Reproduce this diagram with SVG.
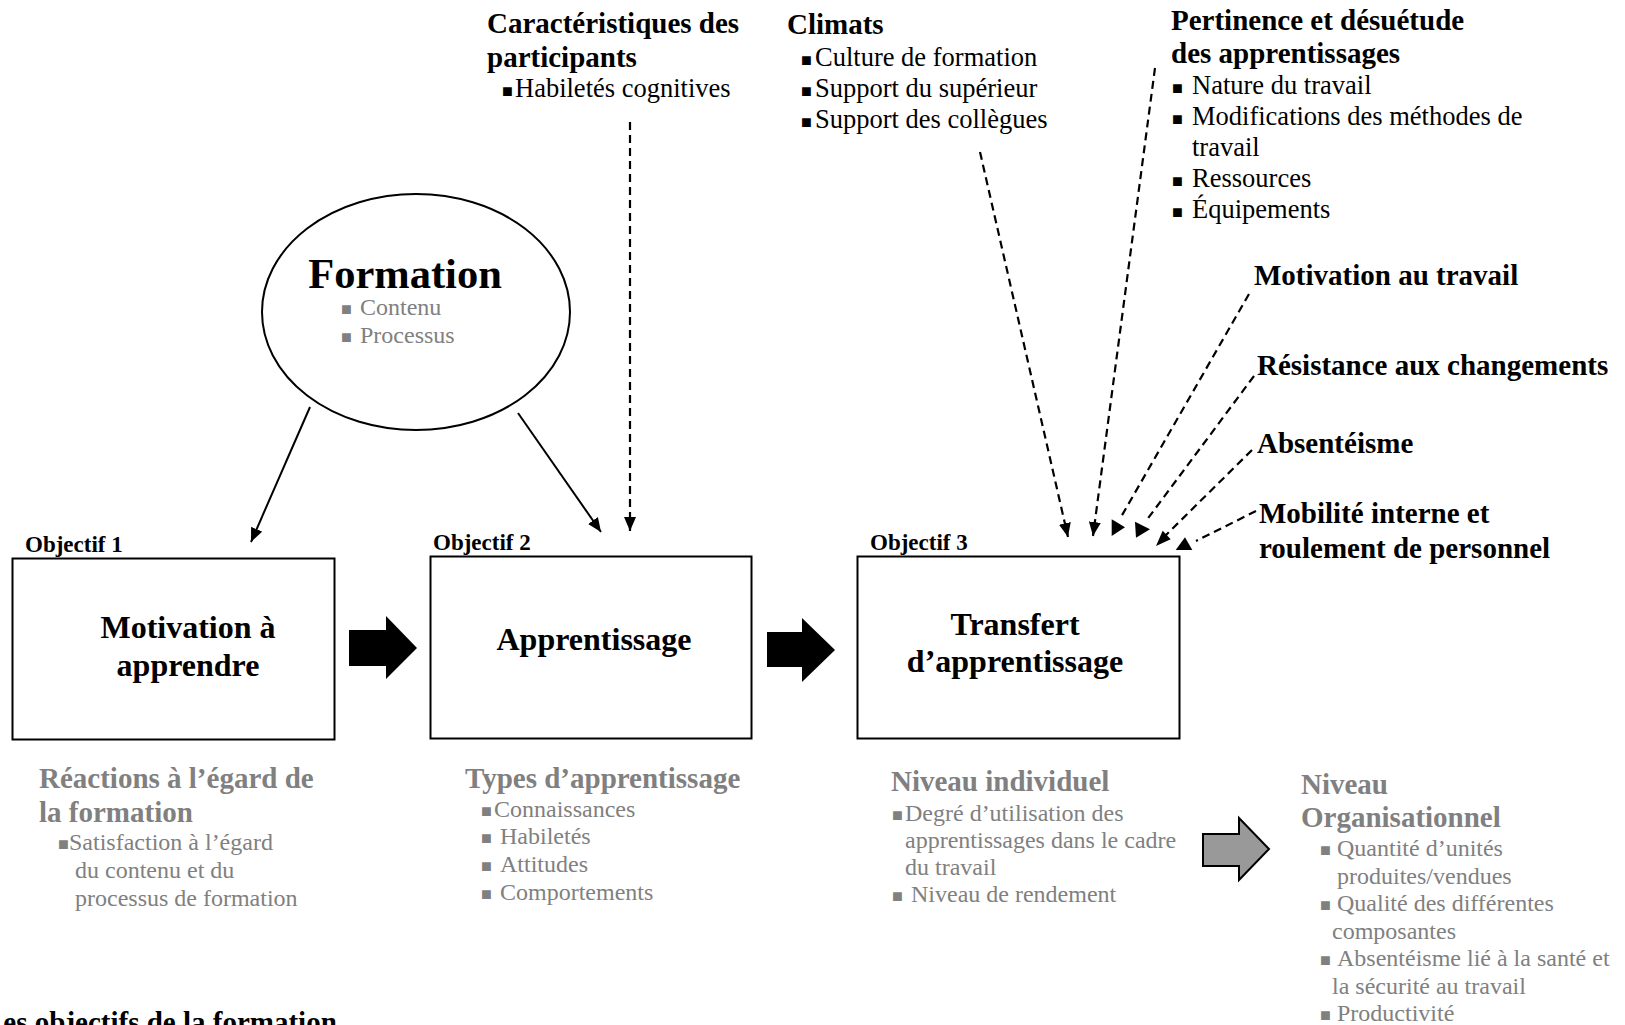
<svg xmlns="http://www.w3.org/2000/svg" width="1625" height="1025" viewBox="0 0 1625 1025">
<style>
text{font-family:"Liberation Serif","Times New Roman",serif;fill:#000}
.h{font-weight:bold;font-size:29px}
.it{font-size:26.5px}
.sm{font-size:24px}
.g{fill:#808080}
.b{font-size:18px;font-family:"Liberation Serif","DejaVu Sans",serif}
.obj{font-weight:bold;font-size:23px}
.bt{font-weight:bold;font-size:32px;text-anchor:middle}
.box{fill:#fff;stroke:#000;stroke-width:2}
.ln{fill:none;stroke:#000;stroke-width:2}
.dash{fill:none;stroke:#000;stroke-width:2.2;stroke-dasharray:8 5}
.head{fill:#000}
</style>
<defs>
<marker id="arr" markerUnits="userSpaceOnUse" markerWidth="14" markerHeight="12" refX="14" refY="6" orient="auto">
<path d="M0,0 L14,6 L0,12 z" fill="#000"/>
</marker>
</defs>
<rect width="1625" height="1025" fill="#fff"/>

<g id="formation">
<ellipse cx="416" cy="312" rx="154" ry="118" fill="#fff" stroke="#000" stroke-width="2"/>
<text x="405" y="288" font-size="42.5" font-weight="bold" text-anchor="middle">Formation</text>
<text class="sm g" y="315"><tspan class="b g" x="341">■</tspan><tspan x="360">Contenu</tspan></text>
<text class="sm g" y="343"><tspan class="b g" x="341">■</tspan><tspan x="360">Processus</tspan></text>
</g>

<g id="caracteristiques">
<text class="h" x="487" y="33">Caractéristiques des</text>
<text class="h" x="487" y="67">participants</text>
<text class="it" y="97"><tspan class="b" x="502">■</tspan><tspan x="515">Habiletés cognitives</tspan></text>
</g>

<g id="climats">
<text class="h" x="787" y="34">Climats</text>
<text class="it" y="66"><tspan class="b" x="801">■</tspan><tspan x="815">Culture de formation</tspan></text>
<text class="it" y="97"><tspan class="b" x="801">■</tspan><tspan x="815">Support du supérieur</tspan></text>
<text class="it" y="128"><tspan class="b" x="801">■</tspan><tspan x="815">Support des collègues</tspan></text>
</g>

<g id="pertinence">
<text class="h" x="1171" y="30">Pertinence et désuétude</text>
<text class="h" x="1171" y="63">des apprentissages</text>
<text class="it" y="94"><tspan class="b" x="1172">■</tspan><tspan x="1192">Nature du travail</tspan></text>
<text class="it" y="125"><tspan class="b" x="1172">■</tspan><tspan x="1192">Modifications des méthodes de</tspan></text>
<text class="it" x="1192" y="156">travail</text>
<text class="it" y="187"><tspan class="b" x="1172">■</tspan><tspan x="1192">Ressources</tspan></text>
<text class="it" y="218"><tspan class="b" x="1172">■</tspan><tspan x="1192">Équipements</tspan></text>
</g>

<g id="motivation-travail"><text class="h" x="1254" y="285">Motivation au travail</text></g>
<g id="resistance"><text class="h" x="1257" y="375">Résistance aux changements</text></g>
<g id="absenteisme"><text class="h" x="1257" y="453">Absentéisme</text></g>
<g id="mobilite">
<text class="h" x="1259" y="523">Mobilité interne et</text>
<text class="h" x="1259" y="558">roulement de personnel</text>
</g>

<g id="objectif1">
<text class="obj" x="25" y="552">Objectif 1</text>
<rect class="box" x="12.5" y="558.5" width="322" height="181"/>
<text class="bt" x="188" y="638">Motivation à</text>
<text class="bt" x="188" y="676">apprendre</text>
</g>

<g id="objectif2">
<text class="obj" x="433" y="550">Objectif 2</text>
<rect class="box" x="430.5" y="556.5" width="321" height="182"/>
<text class="bt" x="594" y="650">Apprentissage</text>
</g>

<g id="objectif3">
<text class="obj" x="870" y="550">Objectif 3</text>
<rect class="box" x="857.5" y="556.5" width="322" height="182"/>
<text class="bt" x="1015" y="635">Transfert</text>
<text class="bt" x="1015" y="672">d’apprentissage</text>
</g>

<g id="reactions">
<text class="h g" x="39" y="788">Réactions à l’égard de</text>
<text class="h g" x="39" y="822">la formation</text>
<text class="sm g" y="850"><tspan class="b g" x="58">■</tspan><tspan x="69">Satisfaction à l’égard</tspan></text>
<text class="sm g" x="75" y="878">du contenu et du</text>
<text class="sm g" x="75" y="906">processus de formation</text>
</g>

<g id="types">
<text class="h g" x="465" y="788">Types d’apprentissage</text>
<text class="sm g" y="817"><tspan class="b g" x="481">■</tspan><tspan x="494">Connaissances</tspan></text>
<text class="sm g" y="844"><tspan class="b g" x="481">■</tspan><tspan x="500">Habiletés</tspan></text>
<text class="sm g" y="872"><tspan class="b g" x="481">■</tspan><tspan x="500">Attitudes</tspan></text>
<text class="sm g" y="900"><tspan class="b g" x="481">■</tspan><tspan x="500">Comportements</tspan></text>
</g>

<g id="niveau-individuel">
<text class="h g" x="891" y="791">Niveau individuel</text>
<text class="sm g" y="821"><tspan class="b g" x="892">■</tspan><tspan x="905">Degré d’utilisation des</tspan></text>
<text class="sm g" x="905" y="848">apprentissages dans le cadre</text>
<text class="sm g" x="905" y="875">du travail</text>
<text class="sm g" y="902"><tspan class="b g" x="892">■</tspan><tspan x="911">Niveau de rendement</tspan></text>
</g>

<g id="niveau-organisationnel">
<text class="h g" x="1301" y="794">Niveau</text>
<text class="h g" x="1301" y="827">Organisationnel</text>
<text class="sm g" y="856"><tspan class="b g" x="1320">■</tspan><tspan x="1337">Quantité d’unités</tspan></text>
<text class="sm g" x="1337" y="884">produites/vendues</text>
<text class="sm g" y="911"><tspan class="b g" x="1320">■</tspan><tspan x="1337">Qualité des différentes</tspan></text>
<text class="sm g" x="1332" y="939">composantes</text>
<text class="sm g" y="966"><tspan class="b g" x="1320">■</tspan><tspan x="1337">Absentéisme lié à la santé et</tspan></text>
<text class="sm g" x="1332" y="994">la sécurité au travail</text>
<text class="sm g" y="1021"><tspan class="b g" x="1320">■</tspan><tspan x="1337">Productivité</tspan></text>
</g>

<g id="caption">
<text class="h" x="-16" y="1032">Les objectifs de la formation</text>
</g>

<g id="connectors">
<line class="ln" x1="310" y1="407" x2="251" y2="542" marker-end="url(#arr)"/>
<line class="ln" x1="518" y1="413" x2="601" y2="532" marker-end="url(#arr)"/>
<line class="dash" x1="630" y1="122" x2="630" y2="531" marker-end="url(#arr)"/>
<line class="dash" x1="980" y1="152" x2="1068" y2="537" marker-end="url(#arr)"/>
<line class="dash" x1="1155" y1="68" x2="1093" y2="536" marker-end="url(#arr)"/>
<line class="dash" x1="1249" y1="294" x2="1121" y2="517"/>
<polygon class="head" points="1111.7,519.3 1111.7,536 1125,527.3"/>
<line class="dash" x1="1254" y1="376" x2="1146" y2="521"/>
<polygon class="head" points="1135,521.7 1136,537.7 1150,529.3"/>
<line class="dash" x1="1252" y1="450" x2="1165" y2="536"/>
<polygon class="head" points="1156,546 1170.7,539.3 1162.7,530.7"/>
<line class="dash" x1="1256" y1="511" x2="1196" y2="541"/>
<polygon class="head" points="1175.7,550 1192.3,550 1185,537.3"/>
<polygon points="349,630 386,630 386,616 417,648 386,679 386,666 349,666" fill="#000"/>
<polygon points="767,632 802,632 802,618 835,650 802,682 802,667 767,667" fill="#000"/>
<polygon points="1203,834 1239,834 1239,818 1269,849 1239,880 1239,866 1203,866" fill="#999" stroke="#000" stroke-width="2"/>
</g>
</svg>
